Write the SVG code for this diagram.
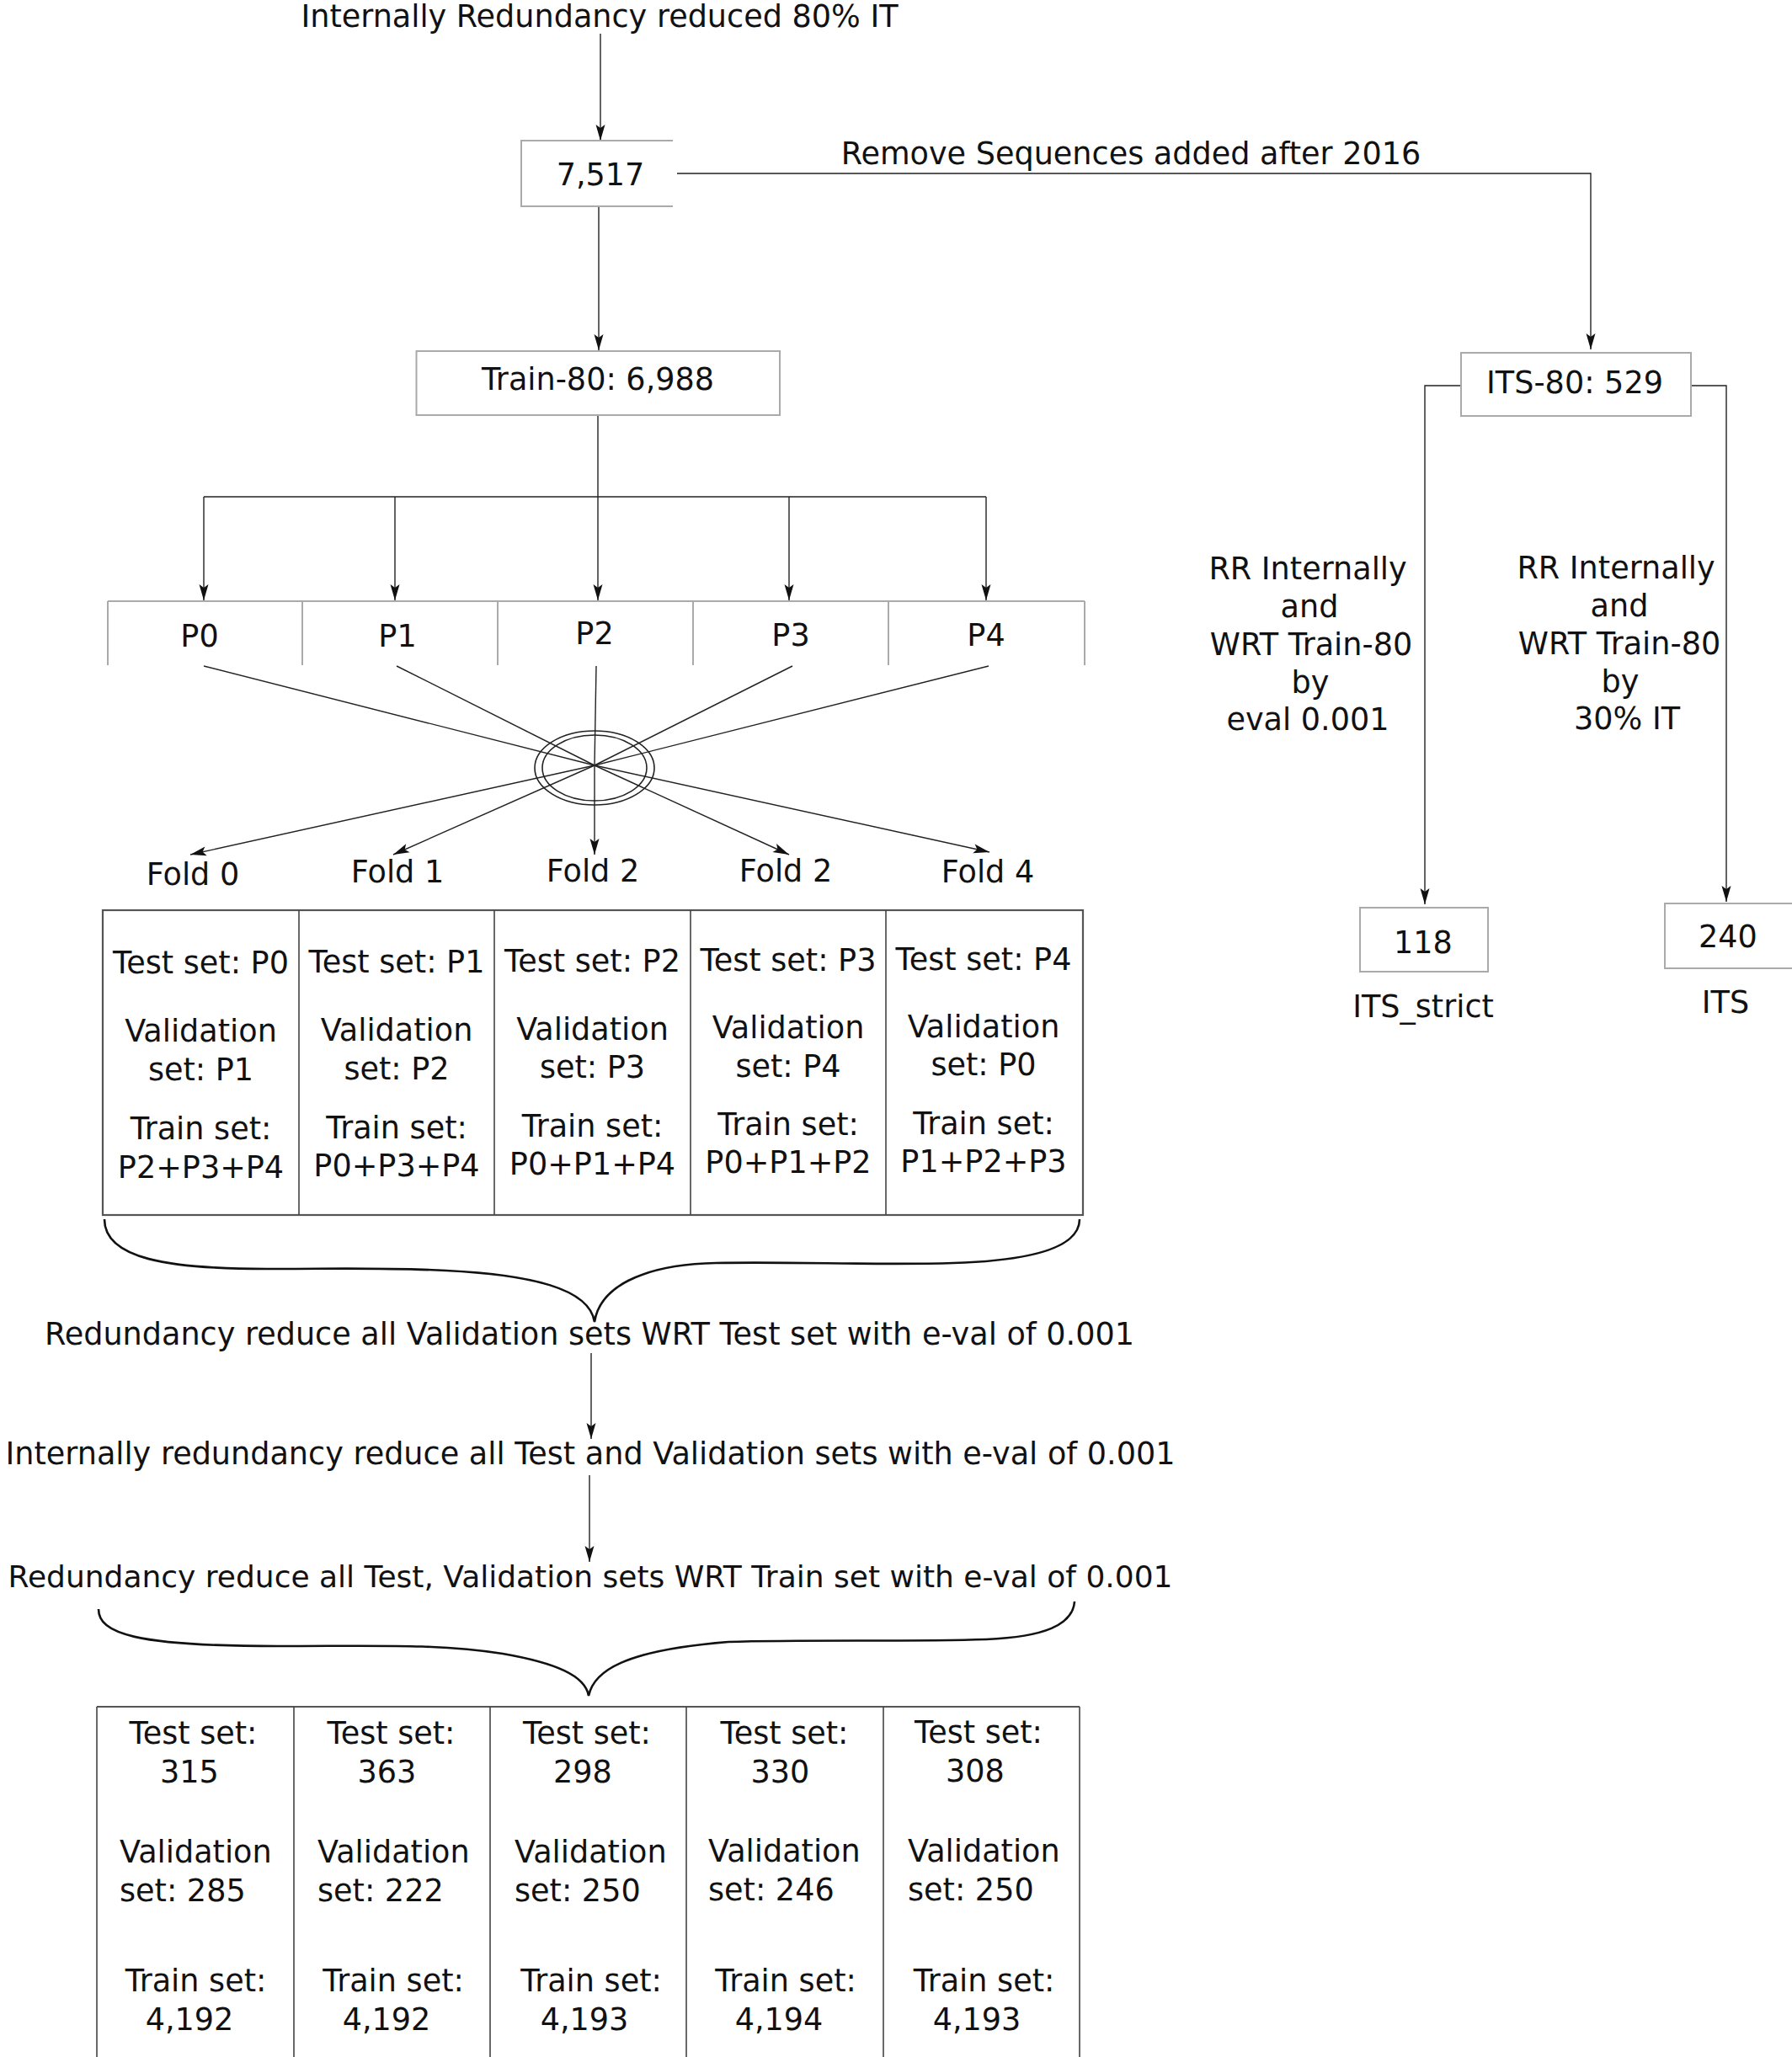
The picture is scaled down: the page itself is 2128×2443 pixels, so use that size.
<svg xmlns="http://www.w3.org/2000/svg" width="2128" height="2443" viewBox="0 0 2128 2443">
<style>
text{font-family:"DejaVu Sans",Verdana,sans-serif;font-size:36.6px;fill:#111;text-anchor:middle}
.c{fill:none;stroke:#222;stroke-width:1.4}
.b{fill:none;stroke:#aaa;stroke-width:2}
.t{fill:none;stroke:#444;stroke-width:1.6}
.br{fill:none;stroke:#111;stroke-width:2.6}
.s{text-anchor:start}
</style>
<defs>
<marker id="a" markerUnits="userSpaceOnUse" markerWidth="24" markerHeight="16" viewBox="-20 -8 22 16" refX="0" refY="0" orient="auto">
<path d="M-19,-5.5 L0,0 L-19,5.5 L-15,0 Z" fill="#111"/>
</marker>
</defs>
<rect width="2128" height="2443" fill="#fff"/>

<g id="connectors">
<line class="c" x1="713" y1="40" x2="713" y2="167" marker-end="url(#a)"/>
<line class="c" x1="711" y1="245" x2="711" y2="416" marker-end="url(#a)"/>
<polyline class="c" points="804,206 1889,206 1889,415" marker-end="url(#a)"/>
<line class="c" x1="710" y1="493" x2="710" y2="713" marker-end="url(#a)"/>
<line class="c" x1="242" y1="590" x2="1171" y2="590"/>
<line class="c" x1="242" y1="590" x2="242" y2="713" marker-end="url(#a)"/>
<line class="c" x1="469" y1="590" x2="469" y2="713" marker-end="url(#a)"/>
<line class="c" x1="937" y1="590" x2="937" y2="713" marker-end="url(#a)"/>
<line class="c" x1="1171" y1="590" x2="1171" y2="713" marker-end="url(#a)"/>
<polyline class="c" points="1735,458 1692,458 1692,1074" marker-end="url(#a)"/>
<polyline class="c" points="2008,458 2050,458 2050,1071" marker-end="url(#a)"/>
<line class="c" x1="242" y1="791" x2="706" y2="909"/>
<line class="c" x1="471" y1="791" x2="706" y2="909"/>
<line class="c" x1="708" y1="791" x2="706" y2="909"/>
<line class="c" x1="941" y1="791" x2="706" y2="909"/>
<line class="c" x1="1174" y1="791" x2="706" y2="909"/>
<line class="c" x1="706" y1="909" x2="226" y2="1015" marker-end="url(#a)"/>
<line class="c" x1="706" y1="909" x2="467" y2="1015" marker-end="url(#a)"/>
<line class="c" x1="706" y1="909" x2="706" y2="1015" marker-end="url(#a)"/>
<line class="c" x1="706" y1="909" x2="937" y2="1015" marker-end="url(#a)"/>
<line class="c" x1="706" y1="909" x2="1175" y2="1012" marker-end="url(#a)"/>
<line class="c" x1="702" y1="1607" x2="702" y2="1709" marker-end="url(#a)"/>
<line class="c" x1="700" y1="1752" x2="700" y2="1855" marker-end="url(#a)"/>
</g>

<g id="title"><text x="712" y="32">Internally Redundancy reduced 80% IT</text></g>
<g id="remove-label"><text x="1343" y="195">Remove Sequences added after 2016</text></g>

<g id="n7517">
<path class="b" d="M799,167 H619 V245 H799"/>
<text x="713" y="220">7,517</text>
</g>

<g id="train80">
<rect class="b" x="494.5" y="417" width="431.5" height="76"/>
<text x="710" y="463">Train-80: 6,988</text>
</g>

<g id="its80">
<rect class="b" x="1735" y="419" width="273" height="75"/>
<text x="1870" y="467">ITS-80: 529</text>
</g>

<g id="rr-left">
<text x="1553" y="688">RR Internally</text>
<text x="1555" y="733">and</text>
<text x="1557" y="778">WRT Train-80</text>
<text x="1556" y="823">by</text>
<text x="1553" y="867">eval 0.001</text>
</g>
<g id="rr-right">
<text x="1919" y="687">RR Internally</text>
<text x="1923" y="732">and</text>
<text x="1923" y="777">WRT Train-80</text>
<text x="1924" y="822">by</text>
<text x="1932" y="866">30% IT</text>
</g>

<g id="n118">
<rect class="b" x="1615" y="1078" width="152" height="76"/>
<text x="1690" y="1132">118</text>
<text x="1690" y="1208">ITS_strict</text>
</g>
<g id="n240">
<rect class="b" x="1977" y="1073" width="170" height="77"/>
<text x="2052" y="1125">240</text>
<text x="2049" y="1203">ITS</text>
</g>

<g id="partitions">
<path class="b" d="M128,714 H1288 M128,714 V790 M359,714 V790 M591,714 V790 M823,714 V790 M1055,714 V790 M1288,714 V790"/>
<text x="237" y="768">P0</text>
<text x="472" y="768">P1</text>
<text x="706" y="765">P2</text>
<text x="939" y="767">P3</text>
<text x="1171" y="767">P4</text>
</g>

<g id="hub">
<ellipse cx="706" cy="912" rx="71" ry="44" fill="none" stroke="#222" stroke-width="1.6"/>
<ellipse cx="706" cy="912" rx="62" ry="39" fill="none" stroke="#222" stroke-width="1.6"/>
</g>

<g id="fold-labels">
<text x="229" y="1051">Fold 0</text>
<text x="472" y="1048">Fold 1</text>
<text x="704" y="1047">Fold 2</text>
<text x="933" y="1047">Fold 2</text>
<text x="1173" y="1048">Fold 4</text>
</g>

<g id="fold-table">
<rect x="122" y="1081" width="1164" height="362" fill="none" stroke="#555" stroke-width="2.2"/>
<path class="t" d="M355,1081 V1443 M587,1081 V1443 M820,1081 V1443 M1052,1081 V1443"/>
<text x="238.5" y="1156">Test set: P0</text>
<text x="238.5" y="1237">Validation</text>
<text x="238.5" y="1283">set: P1</text>
<text x="238.5" y="1353">Train set:</text>
<text x="238.5" y="1399">P2+P3+P4</text>
<text x="471" y="1155">Test set: P1</text>
<text x="471" y="1236">Validation</text>
<text x="471" y="1282">set: P2</text>
<text x="471" y="1352">Train set:</text>
<text x="471" y="1397">P0+P3+P4</text>
<text x="703.5" y="1154">Test set: P2</text>
<text x="703.5" y="1235">Validation</text>
<text x="703.5" y="1280">set: P3</text>
<text x="703.5" y="1350">Train set:</text>
<text x="703.5" y="1395">P0+P1+P4</text>
<text x="936" y="1153">Test set: P3</text>
<text x="936" y="1233">Validation</text>
<text x="936" y="1279">set: P4</text>
<text x="936" y="1348">Train set:</text>
<text x="936" y="1393">P0+P1+P2</text>
<text x="1168" y="1152">Test set: P4</text>
<text x="1168" y="1232">Validation</text>
<text x="1168" y="1277">set: P0</text>
<text x="1168" y="1347">Train set:</text>
<text x="1168" y="1392">P1+P2+P3</text>
</g>

<g id="brace1">
<path class="br" d="M124,1448 C124,1495 200,1507 317,1507 C400,1507 450,1505 530,1509 C630,1514 700,1530 706,1570 C712,1530 760,1502 850,1500 C940,1498 1040,1503 1132,1500 C1230,1497 1282,1480 1282,1448"/>
</g>

<g id="step1"><text x="700" y="1597">Redundancy reduce all Validation sets WRT Test set with e-val of 0.001</text></g>
<g id="step2"><text x="701" y="1739">Internally redundancy reduce all Test and Validation sets with e-val of 0.001</text></g>
<g id="step3"><text x="701" y="1885" style="font-size:36px">Redundancy reduce all Test, Validation sets WRT Train set with e-val of 0.001</text></g>

<g id="brace2">
<path class="br" d="M117,1911 C117,1940 160,1955 330,1955 C450,1955 520,1952 597,1964 C660,1975 695,1990 699,2014 C705,1985 740,1960 865,1950 C960,1947 1080,1950 1171,1947 C1240,1944 1274,1930 1276,1902"/>
</g>

<g id="result-table">
<path d="M115,2027 H1282" stroke="#555" stroke-width="2.2" fill="none"/>
<path class="t" d="M115,2027 V2443 M349,2027 V2443 M582,2027 V2443 M815,2027 V2443 M1049,2027 V2443 M1282,2027 V2443"/>
<text x="229.5" y="2071">Test set:</text>
<text x="225" y="2117">315</text>
<text class="s" x="142" y="2212">Validation</text>
<text class="s" x="142" y="2258">set: 285</text>
<text x="232.5" y="2365">Train set:</text>
<text x="225" y="2411">4,192</text>
<text x="464.5" y="2071">Test set:</text>
<text x="459.5" y="2117">363</text>
<text class="s" x="377" y="2212">Validation</text>
<text class="s" x="377" y="2258">set: 222</text>
<text x="467" y="2365">Train set:</text>
<text x="459" y="2411">4,192</text>
<text x="697" y="2071">Test set:</text>
<text x="692" y="2117">298</text>
<text class="s" x="611" y="2212">Validation</text>
<text class="s" x="611" y="2258">set: 250</text>
<text x="702" y="2365">Train set:</text>
<text x="694" y="2411">4,193</text>
<text x="931.5" y="2071">Test set:</text>
<text x="926.5" y="2117">330</text>
<text class="s" x="841" y="2211">Validation</text>
<text class="s" x="841" y="2257">set: 246</text>
<text x="933" y="2365">Train set:</text>
<text x="925" y="2411">4,194</text>
<text x="1162" y="2070">Test set:</text>
<text x="1158" y="2116">308</text>
<text class="s" x="1078" y="2211">Validation</text>
<text class="s" x="1078" y="2257">set: 250</text>
<text x="1168.5" y="2365">Train set:</text>
<text x="1160" y="2411">4,193</text>
</g>
</svg>
